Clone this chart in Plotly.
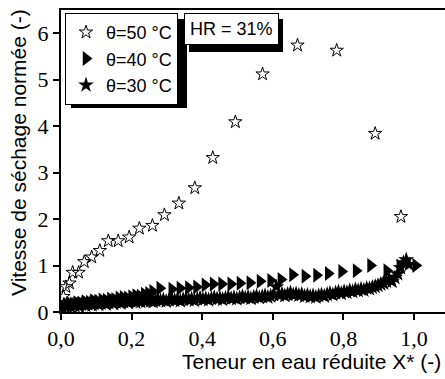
import plotly.graph_objects as go

# Normalised drying rate vs reduced moisture content X*, relative humidity 31 %

# theta = 50 °C (open stars)
x50 = [0.007, 0.014, 0.024, 0.033, 0.050, 0.066, 0.087, 0.110, 0.134, 0.162,
       0.193, 0.222, 0.259, 0.293, 0.334, 0.379, 0.430, 0.494, 0.571, 0.670,
       0.781, 0.890, 0.963]
y50 = [0.33, 0.54, 0.62, 0.85, 0.85, 1.08, 1.18, 1.32, 1.53, 1.53,
       1.61, 1.80, 1.86, 2.09, 2.34, 2.67, 3.32, 4.09, 5.12, 5.74,
       5.63, 3.84, 2.05]

# theta = 40 °C (right triangles)
x40 = [0.005, 0.015, 0.025, 0.035, 0.045, 0.057, 0.068, 0.080, 0.092, 0.104,
       0.116, 0.128, 0.140, 0.152, 0.164, 0.176, 0.188, 0.200, 0.212, 0.224,
       0.236, 0.248, 0.260, 0.280, 0.314, 0.337, 0.361, 0.384, 0.408, 0.431,
       0.455, 0.481, 0.507, 0.535, 0.564, 0.594, 0.623, 0.656, 0.691, 0.724,
       0.757, 0.795, 0.836, 0.877, 0.923, 0.960, 1.005]
y40 = [0.12, 0.16, 0.18, 0.17, 0.20, 0.19, 0.22, 0.21, 0.24, 0.23,
       0.26, 0.25, 0.28, 0.27, 0.30, 0.31, 0.30, 0.33, 0.35, 0.34,
       0.38, 0.40, 0.44, 0.51, 0.49, 0.51, 0.52, 0.54, 0.58, 0.60,
       0.60, 0.60, 0.62, 0.63, 0.66, 0.68, 0.70, 0.80, 0.77, 0.79,
       0.83, 0.87, 0.89, 1.00, 0.89, 0.99, 1.00]

# theta = 30 °C (filled stars)
x30 = [0.004, 0.010, 0.016, 0.022, 0.028, 0.034, 0.040, 0.046, 0.052, 0.058,
       0.064, 0.070, 0.076, 0.082, 0.088, 0.094, 0.100, 0.107, 0.114, 0.121,
       0.128, 0.135, 0.142, 0.149, 0.156, 0.163, 0.170, 0.177, 0.184, 0.191,
       0.198, 0.205, 0.212, 0.219, 0.226, 0.233, 0.240, 0.247, 0.254, 0.261,
       0.268, 0.275, 0.282, 0.290, 0.298, 0.306, 0.314, 0.322, 0.330, 0.338,
       0.346, 0.354, 0.362, 0.370, 0.378, 0.386, 0.394, 0.402, 0.410, 0.418,
       0.426, 0.434, 0.442, 0.450, 0.458, 0.466, 0.474, 0.482, 0.490, 0.498,
       0.506, 0.514, 0.522, 0.530, 0.538, 0.546, 0.554, 0.562, 0.570, 0.578,
       0.586, 0.594, 0.602, 0.610, 0.618, 0.626, 0.634, 0.642, 0.650, 0.658,
       0.666, 0.674, 0.682, 0.690, 0.698, 0.706, 0.714, 0.722, 0.730, 0.738,
       0.746, 0.754, 0.762, 0.770, 0.778, 0.786, 0.794, 0.802, 0.810, 0.818,
       0.826, 0.834, 0.842, 0.850, 0.858, 0.866, 0.874, 0.882, 0.890, 0.898,
       0.906, 0.914, 0.922, 0.930, 0.938, 0.946, 0.954, 0.962, 0.970, 0.978,
       0.986]
y30 = [0.10, 0.14, 0.12, 0.15, 0.11, 0.16, 0.13, 0.17, 0.12, 0.16,
       0.18, 0.14, 0.17, 0.19, 0.15, 0.18, 0.20, 0.16, 0.19, 0.21,
       0.17, 0.20, 0.22, 0.18, 0.21, 0.23, 0.19, 0.22, 0.24, 0.20,
       0.23, 0.25, 0.21, 0.24, 0.22, 0.25, 0.23, 0.26, 0.24, 0.22,
       0.25, 0.27, 0.24, 0.26, 0.23, 0.26, 0.28, 0.25, 0.27, 0.24,
       0.27, 0.29, 0.26, 0.28, 0.25, 0.28, 0.30, 0.27, 0.29, 0.26,
       0.29, 0.31, 0.28, 0.30, 0.27, 0.30, 0.32, 0.29, 0.31, 0.28,
       0.31, 0.33, 0.30, 0.32, 0.29, 0.32, 0.34, 0.31, 0.33, 0.35,
       0.32, 0.34, 0.37, 0.54, 0.36, 0.39, 0.35, 0.38, 0.41, 0.37,
       0.39, 0.36, 0.38, 0.34, 0.36, 0.33, 0.35, 0.32, 0.35, 0.37,
       0.34, 0.38, 0.40, 0.37, 0.41, 0.43, 0.40, 0.44, 0.42, 0.46,
       0.44, 0.48, 0.46, 0.49, 0.47, 0.51, 0.50, 0.53, 0.55, 0.57,
       0.60, 0.62, 0.66, 0.70, 0.66, 0.74, 0.82, 0.95, 1.06, 1.12,
       1.02]

series_names = ["θ=50 °C", "θ=40 °C", "θ=30 °C"]
x_tick_vals = [0.0, 0.2, 0.4, 0.6, 0.8, 1.0]
x_tick_text = ["0,0", "0,2", "0,4", "0,6", "0,8", "1,0"]
y_tick_vals = [0, 1, 2, 3, 4, 5, 6]
y_tick_text = ["0", "1", "2", "3", "4", "5", "6"]

fig = go.Figure()
fig.add_trace(go.Scatter(
    x=x50, y=y50, mode="markers", name=series_names[0],
    marker=dict(symbol="star-open", size=10, color="black",
                line=dict(color="black", width=1))))
fig.add_trace(go.Scatter(
    x=x40, y=y40, mode="markers", name=series_names[1],
    marker=dict(symbol="triangle-right", size=13, color="black")))
fig.add_trace(go.Scatter(
    x=x30, y=y30, mode="markers", name=series_names[2],
    marker=dict(symbol="star", size=12, color="black")))

W, H = 445, 379
L, R, T, B = 61, 0, 10, 67
pw, ph = W - L - R, H - T - B


def px_x(p):
    return (p - L) / pw


def px_y(p):
    return (H - B - p) / ph


serif = "Liberation Serif"
sans = "Liberation Sans"

# drop shadows behind the legend and the HR label
shapes = [
    dict(type="rect", xref="paper", yref="paper",
         x0=px_x(71), x1=px_x(187), y0=px_y(108), y1=px_y(19),
         fillcolor="black", line=dict(width=0), layer="above"),
    dict(type="rect", xref="paper", yref="paper",
         x0=px_x(189), x1=px_x(283), y0=px_y(52), y1=px_y(19),
         fillcolor="black", line=dict(width=0), layer="above"),
]

annotations = [
    dict(text="HR = 31%", xref="paper", yref="paper",
         x=px_x(184), y=px_y(13), xanchor="left", yanchor="top",
         showarrow=False, font=dict(family=sans, size=18, color="black"),
         bgcolor="white", bordercolor="black", borderwidth=1, borderpad=5),
    dict(text="Teneur en eau réduite X* (-)", xref="paper", yref="paper",
         x=px_x(443), y=px_y(361), xanchor="right", yanchor="middle",
         showarrow=False, font=dict(family=sans, size=21, color="black")),
    dict(text="Vitesse de séchage normée (-)", xref="paper", yref="paper",
         x=px_x(18), y=px_y(153), xanchor="center", yanchor="middle",
         textangle=-90, showarrow=False,
         font=dict(family=sans, size=21, color="black")),
]

fig.update_layout(
    width=W, height=H,
    margin=dict(l=L, r=R, t=T, b=B, pad=0),
    paper_bgcolor="white", plot_bgcolor="white",
    showlegend=True,
    legend=dict(x=px_x(65), y=px_y(13), xanchor="left", yanchor="top",
                bgcolor="white", bordercolor="black", borderwidth=1,
                font=dict(family=sans, size=18, color="black"),
                itemwidth=30, tracegroupgap=0),
    shapes=shapes,
    annotations=annotations,
    xaxis=dict(range=[0, pw / 353.0], tickvals=x_tick_vals, ticktext=x_tick_text,
               showline=True, linecolor="black", linewidth=2, mirror=True,
               ticks="outside", ticklen=6, tickwidth=2, tickcolor="black",
               showgrid=False, zeroline=False,
               tickfont=dict(family=serif, size=22, color="black")),
    yaxis=dict(range=[0, 6.5], tickvals=y_tick_vals, ticktext=y_tick_text,
               showline=True, linecolor="black", linewidth=2,
               ticks="outside", ticklen=6, tickwidth=2, tickcolor="black",
               showgrid=False, zeroline=False,
               tickfont=dict(family=serif, size=22, color="black")),
)

fig.write_html("out.html")
